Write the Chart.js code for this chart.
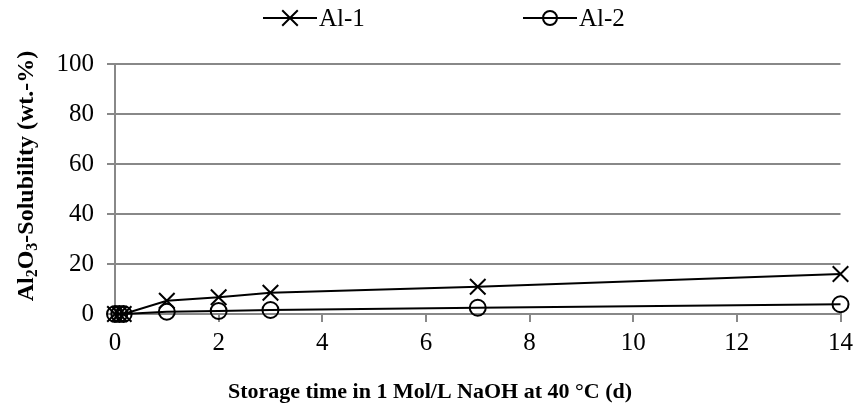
<!DOCTYPE html>
<html lang="en">
<head>
    <meta charset="UTF-8">
    <title>Al2O3 Solubility</title>
    <style>
        body { margin: 0; padding: 0; background: #fff; }
        .wrap { width: 859px; height: 412px; }
    </style>
</head>
<body>
    <div class="wrap"><canvas id="chart" width="859" height="412"></canvas></div>

    <script src="https://cdn.jsdelivr.net/npm/chart.js"></script>
    <script>
        // storage time (d) and solubility (wt.-%)
        const days = [0, 0.083, 0.167, 1, 2, 3, 7, 14];
        const al1 = [0, 0, 0, 5.3, 6.7, 8.5, 10.9, 16.0];
        const al2 = [0, 0, 0, 0.9, 1.2, 1.6, 2.5, 3.9];
        const xTicks = [0, 2, 4, 6, 8, 10, 12, 14];
        const yTicks = [0, 20, 40, 60, 80, 100];

        const xTitle = 'Storage time in 1 Mol/L NaOH at 40 °C (d)';
        // y title pieces: [text, subscript?]
        const yTitle = [['Al', false], ['2', true], ['O', false], ['3', true], ['-Solubility (wt.-%)', false]];

        const font = "'Liberation Serif', 'Times New Roman', serif";

        const toPts = (ys) => days.map((d, i) => ({ x: d, y: ys[i] }));

        // legend (line + marker, then label) and axis titles with real subscripts
        const extras = {
            id: 'extras',
            afterDraw(chart) {
                const ctx = chart.ctx;
                ctx.save();
                ctx.fillStyle = '#000';
                ctx.strokeStyle = '#000';

                // legend
                const y = 18;
                const starts = [263, 523];
                ctx.font = '25px ' + font;
                ctx.textBaseline = 'middle';
                chart.data.datasets.forEach((ds, i) => {
                    const x0 = starts[i];
                    ctx.lineWidth = 2;
                    ctx.beginPath();
                    ctx.moveTo(x0, y);
                    ctx.lineTo(x0 + 54, y);
                    ctx.stroke();
                    ctx.fillStyle = 'rgba(0,0,0,0)';
                    Chart.helpers.drawPoint(ctx, {
                        pointStyle: ds.pointStyle,
                        radius: ds.pointStyle === 'circle' ? 7 : ds.pointRadius,
                        borderWidth: 2
                    }, x0 + 27, y);
                    ctx.fillStyle = '#000';
                    ctx.fillText(ds.label, x0 + 56, y + 1);
                });

                // x title
                ctx.font = 'bold 22px ' + font;
                ctx.textAlign = 'center';
                ctx.textBaseline = 'middle';
                ctx.fillText(xTitle, 430, 392);

                // y title, rotated
                ctx.translate(25, 176);
                ctx.rotate(-Math.PI / 2);
                ctx.textAlign = 'left';
                ctx.textBaseline = 'alphabetic';
                const big = 'bold 24px ' + font;
                const small = 'bold 16px ' + font;
                let total = 0;
                yTitle.forEach(([t, sub]) => { ctx.font = sub ? small : big; total += ctx.measureText(t).width; });
                let x = -total / 2;
                yTitle.forEach(([t, sub]) => {
                    ctx.font = sub ? small : big;
                    ctx.fillText(t, x, sub ? 12 : 8);
                    x += ctx.measureText(t).width;
                });
                ctx.restore();
            }
        };

        new Chart(document.getElementById('chart'), {
            type: 'scatter',
            data: {
                datasets: [
                    {
                        label: 'Al-1',
                        data: toPts(al1),
                        showLine: true,
                        clip: false,
                        borderColor: '#000',
                        borderWidth: 2,
                        pointStyle: 'crossRot',
                        pointRadius: 11,
                        pointBorderWidth: 2,
                        pointBorderColor: '#000',
                        pointBackgroundColor: 'rgba(0,0,0,0)'
                    },
                    {
                        label: 'Al-2',
                        data: toPts(al2),
                        showLine: true,
                        clip: false,
                        borderColor: '#000',
                        borderWidth: 2,
                        pointStyle: 'circle',
                        pointRadius: 8,
                        pointBorderWidth: 2,
                        pointBorderColor: '#000',
                        pointBackgroundColor: 'rgba(0,0,0,0)'
                    }
                ]
            },
            plugins: [extras],
            options: {
                responsive: false,
                animation: false,
                layout: { padding: { left: 0, right: 18, top: 64, bottom: 0 } },
                plugins: {
                    tooltip: { enabled: false },
                    legend: { display: false }
                },
                scales: {
                    x: {
                        type: 'linear',
                        min: 0,
                        max: 14,
                        afterBuildTicks: (axis) => { axis.ticks = xTicks.map(v => ({ value: v })); },
                        afterFit: (axis) => { axis.height = 98; },
                        grid: {
                            drawOnChartArea: false,
                            drawTicks: true,
                            tickLength: 8,
                            color: '#888',
                            lineWidth: 2
                        },
                        border: { color: '#888', width: 2 },
                        ticks: { color: '#000', padding: 6, maxRotation: 0, font: { family: font, size: 25 } }
                    },
                    y: {
                        min: 0,
                        max: 100,
                        afterBuildTicks: (axis) => { axis.ticks = yTicks.map(v => ({ value: v })); },
                        afterFit: (axis) => { axis.width = 115; },
                        grid: {
                            color: '#888',
                            lineWidth: 2,
                            drawTicks: true,
                            tickLength: 8
                        },
                        border: { color: '#888', width: 2 },
                        ticks: { color: '#000', padding: 13, font: { family: font, size: 25 } }
                    }
                }
            }
        });
    </script>
</body>
</html>
